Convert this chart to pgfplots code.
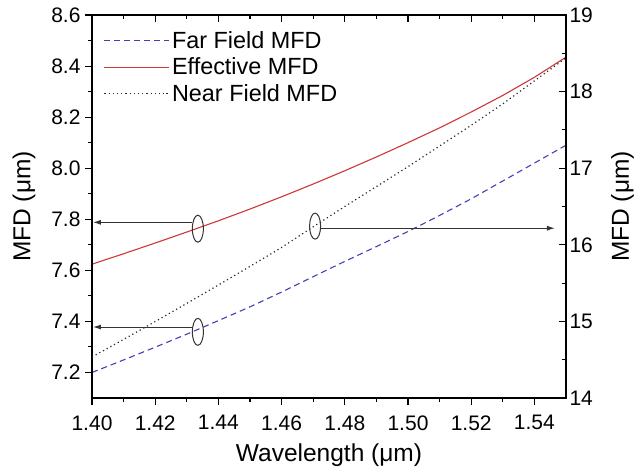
\documentclass[border=0pt]{standalone}
\usepackage{fontspec}
\setmainfont{Liberation Sans}
\usepackage{pgfplots}
\pgfplotsset{compat=1.18}
\usetikzlibrary{arrows.meta}
\definecolor{ffblue}{RGB}{65,65,180}
\definecolor{effred}{RGB}{205,55,55}
\definecolor{nfgray}{RGB}{40,40,40}
\begin{document}
\begin{tikzpicture}
\path[use as bounding box] (-92pt,-72pt) rectangle (544pt,398pt);
\pgfplotsset{
  common/.style={
    scale only axis, width=474pt, height=383pt,
    at={(0pt,0pt)}, anchor=south west,
    xmin=1.40, xmax=1.55,
    xtick={1.40,1.42,1.44,1.46,1.48,1.50,1.52,1.54},
    minor x tick num=1, minor y tick num=1,
    axis line style={line width=1.3pt},
    major tick length=7pt, minor tick length=4pt,
    every tick/.style={black, line width=1.1pt},
    tick label style={font=\fontsize{21}{24}\selectfont},
    label style={font=\fontsize{24.5}{28}\selectfont},
    /pgf/number format/assume math mode=true,
  }
}
\begin{axis}[common,
  ymin=7.1, ymax=8.6,
  ytick={7.2,7.4,7.6,7.8,8.0,8.2,8.4,8.6},
  xtick pos=bottom, ytick pos=left, tick align=outside,
  xticklabel style={yshift=-7pt, /pgf/number format/.cd, fixed, fixed zerofill, precision=2},
  yticklabel style={xshift=-1pt, /pgf/number format/.cd, fixed, fixed zerofill, precision=1},
  xlabel={Wavelength (μm)}, ylabel={MFD (μm)},
  xlabel style={at={(axis description cs:0.5,-0.166)}, anchor=base},
  ylabel style={at={(axis description cs:-0.119,0.5)}, anchor=south, inner sep=0pt},
  legend cell align=left,
  legend image code/.code={\draw[#1] (0pt,0pt) -- (62pt,0pt); \path (62pt,0pt) -- (65pt,0pt);},
  legend style={at={(0.0183,0.968)}, anchor=north west, draw=none, fill=none,
    font=\fontsize{23.4}{28}\selectfont, row sep=4pt},
]
\addplot[ffblue, line width=1.1pt, dash pattern=on 6pt off 4pt] coordinates {
(1.40,7.200) (1.41,7.249) (1.42,7.299) (1.43,7.350) (1.44,7.403) (1.45,7.457)
(1.46,7.515) (1.47,7.575) (1.48,7.635) (1.49,7.693) (1.50,7.752) (1.51,7.815)
(1.52,7.880) (1.53,7.950) (1.54,8.020) (1.55,8.090)};
\addlegendentry{Far Field MFD}
\addplot[effred, line width=1.1pt] coordinates {
(1.40,7.624) (1.41,7.665) (1.42,7.707) (1.43,7.750) (1.44,7.794) (1.45,7.840)
(1.46,7.888) (1.47,7.938) (1.48,7.990) (1.49,8.044) (1.50,8.100) (1.51,8.158)
(1.52,8.220) (1.53,8.285) (1.54,8.356) (1.55,8.435)};
\addlegendentry{Effective MFD}
\addlegendimage{nfgray, line width=1.2pt, dash pattern=on 1.2pt off 3pt}
\addlegendentry{Near Field MFD}
\draw[line width=1pt, black!80] (axis cs:1.4335,7.763) ellipse [x radius=5.5pt, y radius=13.5pt];
\draw[line width=1pt, black!80, -{Latex[length=8pt,width=5pt]}] (axis cs:1.4316,7.788) -- (axis cs:1.4003,7.788);
\draw[line width=1pt, black!80] (axis cs:1.4335,7.359) ellipse [x radius=5.5pt, y radius=13.5pt];
\draw[line width=1pt, black!80, -{Latex[length=8pt,width=5pt]}] (axis cs:1.4316,7.378) -- (axis cs:1.4003,7.378);
\draw[line width=1pt, black!80] (axis cs:1.4706,7.773) ellipse [x radius=5.5pt, y radius=13pt];
\draw[line width=1pt, black!80, -{Latex[length=8pt,width=5pt]}] (axis cs:1.4725,7.765) -- (axis cs:1.5465,7.765);
\end{axis}
\begin{axis}[common,
  ymin=14, ymax=19,
  ytick={14,15,16,17,18,19},
  xtick pos=top, ytick pos=right, yticklabel pos=right, tick align=inside,
  xticklabels={},
  ylabel={MFD (μm)},
  ylabel style={at={(axis description cs:1.1435,0.5)}, anchor=south, inner sep=0pt},
]
\addplot[nfgray, line width=1.2pt, dash pattern=on 1.2pt off 3pt] coordinates {
(1.40,14.535) (1.41,14.765) (1.42,14.998) (1.43,15.235) (1.44,15.475) (1.45,15.718)
(1.46,15.965) (1.47,16.235) (1.48,16.500) (1.49,16.760) (1.50,17.020) (1.51,17.290)
(1.52,17.560) (1.53,17.840) (1.54,18.140) (1.55,18.440)};
\end{axis}
\end{tikzpicture}
\end{document}
